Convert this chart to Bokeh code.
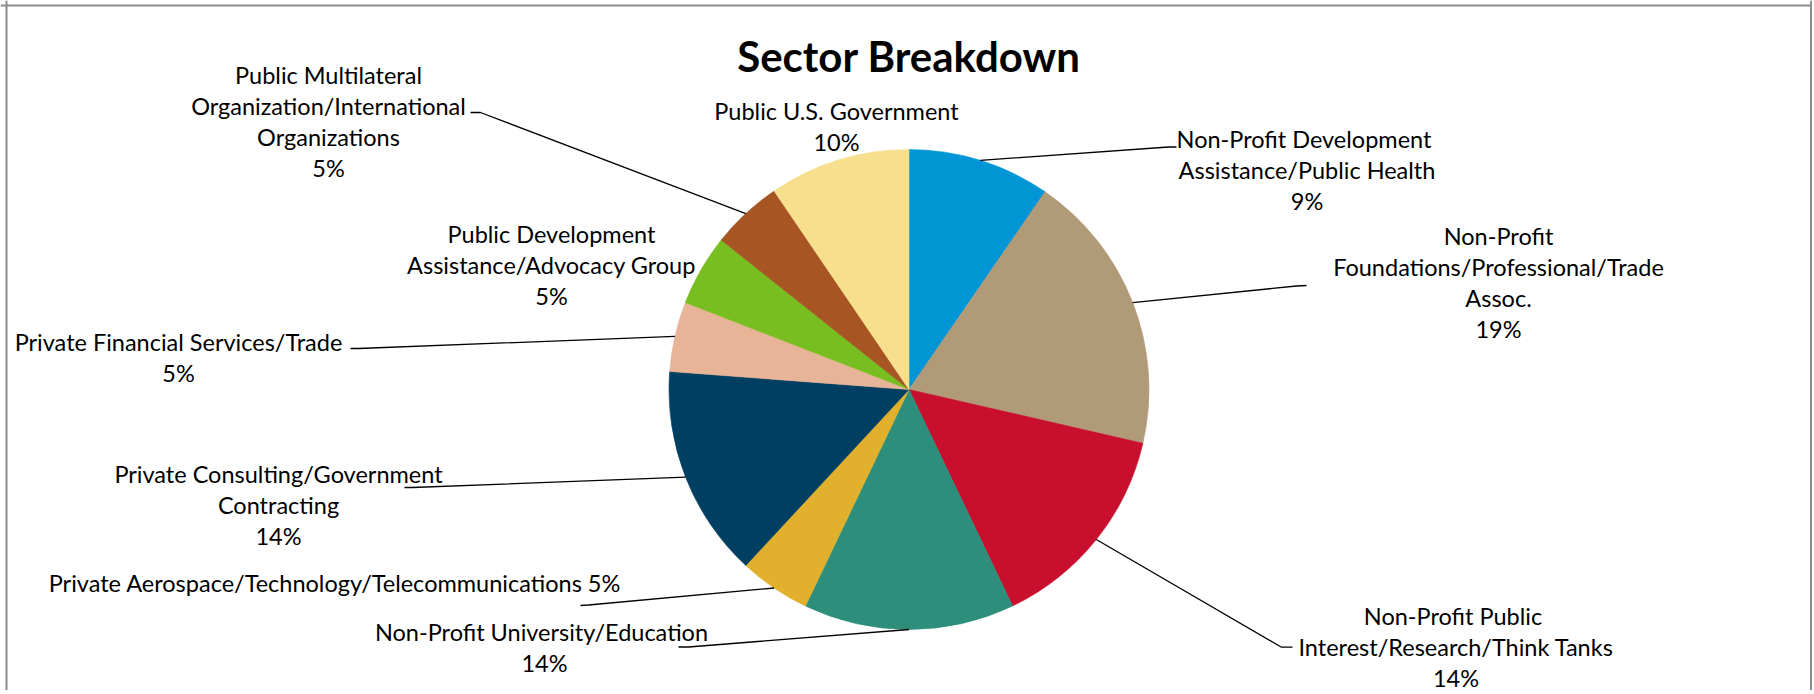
import numpy as np
from bokeh.plotting import figure
from bokeh.models import Range1d, ColumnDataSource, Span
from bokeh.core.properties import value
from bokeh.embed import file_html
from bokeh.resources import INLINE

# ---------------- data ----------------
title = "Sector Breakdown"
sector_lines = [
    ["Non-Profit  Development", "Assistance/Public Health"],
    ["Non-Profit", "Foundations/Professional/Trade", "Assoc."],
    ["Non-Profit  Public", "Interest/Research/Think Tanks"],
    ["Non-Profit  University/Education"],
    ["Private Aerospace/Technology/Telecommunications"],
    ["Private Consulting/Government", "Contracting"],
    ["Private Financial Services/Trade"],
    ["Public Development", "Assistance/Advocacy Group"],
    ["Public Multilateral", "Organization/International", "Organizations"],
    ["Public U.S. Government"],
]
sectors = [" ".join(l) for l in sector_lines]
shares = [9.6, 19.0, 14.3, 14.2, 4.8, 14.3, 4.7, 4.8, 4.8, 9.5]
pct_labels = ["9%", "19%", "14%", "14%", "5%", "14%", "5%", "5%", "5%", "10%"]
colors = ["#0096D6", "#B09A78", "#C8102E", "#2C8E7B", "#E1B02C",
          "#003F62", "#E8B497", "#78BE20", "#A65523", "#F7DF8E"]

# ---------------- layout (picture pixel coordinates) ----------------
W, H = 1812, 690
def Y(py):
    return H - py

cx, cy, R = 908.5, 389.0, 240.0
LINE_GAP = 31.0
FONT = "Lato"
FS = "23.5px"

# label anchor: (center x, first line center y)
label_pos = [(1306.5, 138.5), (1498, 235), (1455.5, 615), (544, 631.5), (334.4, 582.3),
             (278, 473), (178, 341.5), (551, 233), (328, 74), (836, 110)]
inline_pct = [False, False, False, False, True, False, False, False, False, False]
# leader: knee and end points (None = no leader)
leaders = [((1168, 146.5), (1176, 146.5)),
           ((1296, 285.5), (1306, 285.0)),
           ((1281, 646.7), (1292, 646.7)),
           ((688, 646.5), (678, 646.5)),
           ((588, 604.5), (580, 605.0)),
           ((412, 487.0), (404, 487.0)),
           ((358, 348.0), (350, 348.0)),
           None,
           ((480, 112.0), (470, 112.0)),
           None]

p = figure(width=W, height=H, output_backend="svg", toolbar_location=None,
           x_range=Range1d(0, W), y_range=Range1d(0, H),
           min_border=0, min_border_left=0, min_border_right=0,
           min_border_top=0, min_border_bottom=0)
p.axis.visible = False
p.grid.visible = False
p.background_fill_color = "white"
p.border_fill_color = "white"
p.outline_line_color = None

# chart-area border (left, top, right)
for loc, dim in [(6, "height"), (1810.5, "height"), (Y(5), "width")]:
    p.add_layout(Span(location=loc, dimension=dim, line_color="#8C8C8C", line_width=2))

total = float(sum(shares))
frac = np.array(shares) / total
cum = np.concatenate([[0.0], np.cumsum(frac)])
# clockwise from 12 o'clock
a0 = np.pi / 2 - 2 * np.pi * cum[:-1]
a1 = np.pi / 2 - 2 * np.pi * cum[1:]
src = ColumnDataSource(dict(x=[cx] * len(shares), y=[Y(cy)] * len(shares),
                            start=a1, end=a0, color=colors, sector=sectors))
p.wedge(x="x", y="y", radius=R, start_angle="start", end_angle="end",
        fill_color="color", line_color="color", line_width=0.6, source=src)

# leader lines from the mid-arc of each slice
mid = np.pi / 2 - 2 * np.pi * (cum[:-1] + cum[1:]) / 2
lx, ly = [], []
for i, ld in enumerate(leaders):
    if ld is None:
        continue
    sx = cx + R * np.cos(mid[i])
    sy = cy - R * np.sin(mid[i])
    (kx, ky), (ex, ey) = ld
    lx.append([sx, kx, ex])
    ly.append([Y(sy), Y(ky), Y(ey)])
p.multi_line(xs=lx, ys=ly, line_color="black", line_width=1.3)

# labels
tx, ty, tt = [], [], []
for i, lines in enumerate(sector_lines):
    x0, y0 = label_pos[i]
    texts = list(lines)
    if inline_pct[i]:
        texts[-1] = texts[-1] + " " + pct_labels[i]
    else:
        texts.append(pct_labels[i])
    for k, t in enumerate(texts):
        tx.append(x0)
        ty.append(Y(y0 + k * LINE_GAP))
        tt.append(t)
p.text(x=tx, y=ty, text=tt, text_font=value(FONT), text_font_size=FS,
       text_align="center", text_baseline="middle", text_color="black")

p.text(x=[cx], y=[Y(55)], text=[title], text_font=value(FONT), text_font_size="42px",
       text_font_style="bold", text_align="center", text_baseline="middle",
       text_color="black")

open("out.html", "w").write(file_html(p, INLINE))
